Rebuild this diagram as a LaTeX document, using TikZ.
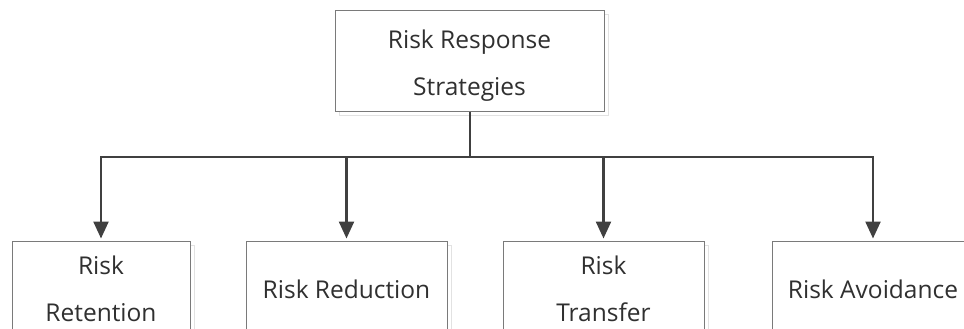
\documentclass[tikz,border=0pt]{standalone}
\usepackage{fontspec}
\setmainfont{Open Sans}
\usetikzlibrary{arrows.meta,positioning}
\definecolor{linec}{HTML}{404040}
\definecolor{boxc}{HTML}{7A7A7A}
\definecolor{shadc}{HTML}{E2E2E2}
\definecolor{txtc}{HTML}{303030}
\tikzset{
  box/.style={draw=boxc, line width=1pt, fill=white, rectangle, align=center,
    text=txtc, font=\fontsize{24.5}{47}\selectfont, inner sep=0pt},
  shadowbox/.style={draw=shadc, line width=1pt},
  conn/.style={draw=linec, line width=2.4pt},
  arr/.style={conn, -{Triangle[width=15pt,length=17pt]}},
}
\begin{document}
\begin{tikzpicture}[x=1pt,y=-1pt]
\useasboundingbox (0,0) rectangle (964,329);
\clip (0,0) rectangle (964,329);
% shadows
\draw[shadowbox] (339,15) rectangle (608,115);
\draw[shadowbox] (16,245) rectangle (194,345);
\draw[shadowbox] (250,245) rectangle (451,345);
\draw[shadowbox] (507,245) rectangle (708,345);
\draw[shadowbox] (776,245) rectangle (978,345);
% nodes
\node[box, minimum width=269pt, minimum height=100pt] (top) at (469.5,61) {\rule{0pt}{28pt}Risk Response\\Strategies};
\node[box, minimum width=178pt, minimum height=96pt] (c1) at (101,289) {Risk\\Retention};
\node[box, minimum width=201pt, minimum height=96pt] (c2) at (346.5,289) {Risk Reduction};
\node[box, minimum width=201pt, minimum height=96pt] (c3) at (603.5,289) {Risk\\Transfer};
\node[box, minimum width=202pt, minimum height=96pt] (c4) at (873,289) {Risk Avoidance};
\coordinate (hub) at (470,157);
\draw[conn] (top.south -| hub) -- (hub);
\draw[arr, shorten >=2pt] (hub) -| (c1.north);
\draw[arr, shorten >=2pt] (hub) -| (c2.north);
\draw[arr, shorten >=2pt] (hub) -| (c3.north);
\draw[arr, shorten >=2pt] (hub) -| (c4.north);
\end{tikzpicture}
\end{document}
